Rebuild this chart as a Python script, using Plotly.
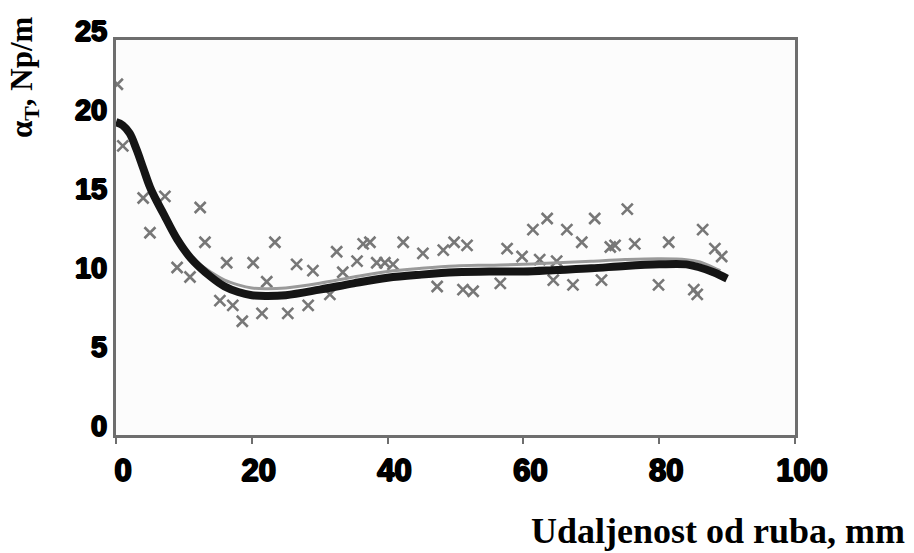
import plotly.graph_objects as go

# Measured points (distance from edge, mm ; attenuation, Np/m)
meas_x = [0.2, 1.0, 4.0, 5.0, 7.2, 9.0, 10.9, 12.4, 13.1, 15.3, 16.3, 17.2, 18.6, 20.2,
          21.5, 22.2, 23.4, 25.3, 26.6, 28.3, 29.0, 31.5, 32.5, 33.4, 35.5, 36.4, 37.4,
          38.4, 39.6, 40.8, 42.3, 45.2, 47.3, 48.2, 49.8, 51.1, 51.7, 52.6, 56.6, 57.6,
          59.8, 61.4, 62.4, 63.5, 64.4, 64.9, 66.4, 67.3, 68.6, 70.5, 71.5, 72.8, 73.5,
          75.3, 76.4, 79.9, 81.4, 85.1, 85.6, 86.4, 88.2, 89.2]
meas_y = [22.2, 18.3, 15.0, 12.8, 15.1, 10.6, 10.0, 14.4, 12.2, 8.5, 10.9, 8.2, 7.2, 10.9,
          7.7, 9.7, 12.2, 7.7, 10.8, 8.2, 10.4, 8.9, 11.6, 10.3, 11.0, 12.1, 12.2,
          10.9, 10.9, 10.8, 12.2, 11.5, 9.4, 11.7, 12.2, 9.2, 12.0, 9.1, 9.6, 11.8,
          11.3, 13.0, 11.1, 13.7, 9.8, 11.0, 13.0, 9.5, 12.2, 13.7, 9.8, 11.9, 12.0,
          14.3, 12.1, 9.5, 12.2, 9.2, 8.9, 13.0, 11.8, 11.3]

# Thick black fitted curve
fit_x = [0, 1, 2, 3, 4, 5, 6, 7, 9, 11, 14, 16, 18, 20, 22, 25, 30, 35, 40, 45, 50,
         55, 60, 65, 70, 75, 80, 84, 86, 88, 90]
fit_y = [19.8, 19.6, 19.1, 18.1, 16.9, 15.7, 14.8, 14.0, 12.4, 11.2, 10.0, 9.4, 9.05, 8.85,
         8.8, 8.85, 9.2, 9.6, 9.95, 10.15, 10.3, 10.35, 10.35, 10.45, 10.55, 10.7, 10.8,
         10.8, 10.6, 10.3, 9.9]

# Thin grey companion curve
fit2_x = [12, 14, 16, 18, 20, 22, 25, 30, 35, 40, 45, 50, 55, 60, 65, 70, 75, 80, 84, 86, 88, 89]
fit2_y = [10.9, 10.3, 9.8, 9.5, 9.3, 9.25, 9.3, 9.6, 10.0, 10.35, 10.55, 10.7, 10.75, 10.8,
          10.9, 11.0, 11.1, 11.15, 11.1, 10.95, 10.6, 10.4]

x_ticks = [0, 20, 40, 60, 80, 100]
y_ticks = [0, 5, 10, 15, 20, 25]

fig = go.Figure()
fig.add_trace(go.Scatter(
    x=meas_x, y=meas_y, mode="markers",
    marker=dict(symbol="x-thin", size=11, color="#777777",
                line=dict(width=2.6, color="#777777")),
    showlegend=False, hoverinfo="skip"))
fig.add_trace(go.Scatter(
    x=fit2_x, y=fit2_y, mode="lines",
    line=dict(color="#9a9a9a", width=3, shape="spline"),
    showlegend=False, hoverinfo="skip"))
fig.add_trace(go.Scatter(
    x=fit_x, y=fit_y, mode="lines",
    line=dict(color="#151515", width=8, shape="spline"),
    showlegend=False, hoverinfo="skip"))

heavy = "1px 0 0 #000, -1px 0 0 #000, 0 1px 0 #000, 0 -1px 0 #000"
tickfont_x = dict(family="Liberation Sans", size=31, color="#000000", weight="bold", shadow=heavy)
tickfont_y = dict(family="Liberation Sans", size=29, color="#000000", weight="bold", shadow=heavy)

fig.update_xaxes(
    range=[0, 100], tickvals=x_ticks, ticktext=[str(v) for v in x_ticks],
    showgrid=False, zeroline=False, showline=True, mirror=True,
    linecolor="#6e6e6e", linewidth=3,
    ticks="outside", ticklen=6, tickwidth=2, tickcolor="#6e6e6e",
    tickfont=tickfont_x, ticklabelstandoff=0, ticklabelshift=7)
fig.update_yaxes(
    range=[0, 25], tickvals=y_ticks, ticktext=[str(v) for v in y_ticks],
    showgrid=False, zeroline=False, showline=True, mirror=True,
    linecolor="#6e6e6e", linewidth=3,
    ticks="", tickfont=tickfont_y, ticklabelstandoff=0, ticklabelshift=-9)

fig.add_annotation(
    text="α<sub>T</sub>, Np/m", xref="paper", yref="paper",
    x=(24 - 116) / 679, y=(435 - 77) / 395, xanchor="center", yanchor="middle",
    textangle=-90, showarrow=False,
    font=dict(family="Liberation Serif", size=31, color="#000000", weight="bold"))
fig.add_annotation(
    text="Udaljenost od ruba, mm", xref="paper", yref="paper",
    x=(907 - 116) / 679, y=-(531 - 435) / 395, xanchor="right", yanchor="middle",
    showarrow=False,
    font=dict(family="Liberation Serif", size=36, color="#000000", weight="bold"))

fig.update_layout(
    width=914, height=553,
    margin=dict(l=116, r=119, t=40, b=118),
    paper_bgcolor="#ffffff", plot_bgcolor="#fcfcfc",
    showlegend=False)

fig.write_html("out.html")
